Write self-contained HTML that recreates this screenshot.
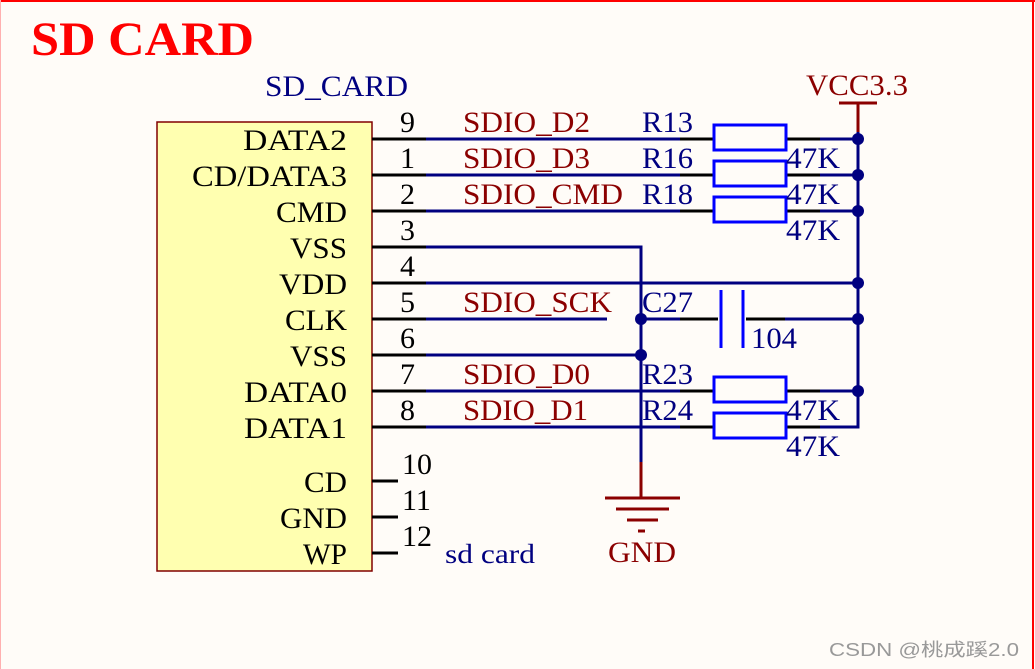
<!DOCTYPE html>
<html><head><meta charset="utf-8"><style>
html,body{margin:0;padding:0;background:#fffcf8;}
svg{display:block;}
text{font-family:"Liberation Serif",serif;font-size:30px;}
</style></head><body>
<svg width="1035" height="669" viewBox="0 0 1035 669" xmlns="http://www.w3.org/2000/svg">
<rect x="0" y="0" width="1035" height="669" fill="#fffcf8"/>
<line x1="0" y1="1" x2="1035" y2="1" stroke="#ff0000" stroke-width="2"/>
<line x1="0.5" y1="0" x2="0.5" y2="669" stroke="#ffb0b0" stroke-width="1"/>
<line x1="1033" y1="0" x2="1033" y2="669" stroke="#ff0000" stroke-width="2"/>
<text x="31" y="55" fill="#ff0000" font-weight="bold" style="font-size:48px" textLength="223" lengthAdjust="spacingAndGlyphs">SD CARD</text>
<text x="265" y="96" fill="#000080" textLength="143" lengthAdjust="spacingAndGlyphs">SD_CARD</text>
<rect x="157" y="122" width="215" height="449" fill="#ffffb0" stroke="#800000" stroke-width="1.5"/>
<g fill="#000" lengthAdjust="spacingAndGlyphs">
<text x="243" y="150" textLength="104" lengthAdjust="spacingAndGlyphs">DATA2</text>
<text x="192" y="186" textLength="155" lengthAdjust="spacingAndGlyphs">CD/DATA3</text>
<text x="276" y="222" textLength="71" lengthAdjust="spacingAndGlyphs">CMD</text>
<text x="290" y="258" textLength="57" lengthAdjust="spacingAndGlyphs">VSS</text>
<text x="279" y="294" textLength="68" lengthAdjust="spacingAndGlyphs">VDD</text>
<text x="285" y="330" textLength="62" lengthAdjust="spacingAndGlyphs">CLK</text>
<text x="290" y="366" textLength="57" lengthAdjust="spacingAndGlyphs">VSS</text>
<text x="244" y="402" textLength="103" lengthAdjust="spacingAndGlyphs">DATA0</text>
<text x="244" y="438" textLength="103" lengthAdjust="spacingAndGlyphs">DATA1</text>
<text x="304" y="492" textLength="43" lengthAdjust="spacingAndGlyphs">CD</text>
<text x="280" y="528" textLength="67" lengthAdjust="spacingAndGlyphs">GND</text>
<text x="303" y="564" textLength="44" lengthAdjust="spacingAndGlyphs">WP</text>
</g>
<g fill="#000">
<text x="400" y="132">9</text><text x="400" y="168">1</text><text x="400" y="204">2</text>
<text x="400" y="240">3</text><text x="400" y="276">4</text><text x="400" y="312">5</text>
<text x="400" y="348">6</text><text x="400" y="384">7</text><text x="400" y="420">8</text>
<text x="402" y="474">10</text><text x="402" y="510">11</text><text x="402" y="546">12</text>
</g>
<g stroke="#000" stroke-width="3">
<path d="M372 139H426M372 175H426M372 211H426M372 247H426M372 283H426M372 319H426M372 355H426M372 391H426M372 427H426"/>
<path d="M372 481H398M372 517H398M372 553H398"/>
<path d="M680 139H713M680 175H713M680 211H713M680 391H713M680 427H713"/>
<path d="M786 139H820M786 175H820M786 211H820M786 391H820M786 427H820"/>
<path d="M680 319H718M746 319H785"/>
</g>
<g stroke="#000080" stroke-width="3" fill="none">
<path d="M426 139H680M426 175H680M426 211H680M426 391H680M426 427H680"/>
<path d="M820 139H858M820 175H858M820 211H858M820 391H858M820 427H858V132"/>
<path d="M426 247H641V462"/>
<path d="M426 283H858"/>
<path d="M426 319H607"/>
<path d="M641 319H680M785 319H858"/>
<path d="M426 355H641"/>
</g>
<g stroke="#0000ff" stroke-width="3" fill="none">
<rect x="714" y="125" width="72" height="25"/>
<rect x="714" y="161" width="72" height="25"/>
<rect x="714" y="197" width="72" height="25"/>
<rect x="714" y="377" width="72" height="25"/>
<rect x="714" y="413" width="72" height="25"/>
<path d="M721 290V348M743 290V348"/>
</g>
<g fill="#000080">
<circle cx="858" cy="139" r="6"/><circle cx="858" cy="175" r="6"/><circle cx="858" cy="211" r="6"/>
<circle cx="858" cy="283" r="6"/><circle cx="858" cy="319" r="6"/><circle cx="858" cy="391" r="6"/>
<circle cx="641" cy="319" r="6"/><circle cx="641" cy="355" r="6"/>
</g>
<g stroke="#8b0000" stroke-width="3">
<path d="M839 103H877M858 103V132"/>
<path d="M641 462V498M605 498H680M616 509H669M627 520H658M638 531H645"/>
</g>
<text x="806" y="95" fill="#8b0000" textLength="102" lengthAdjust="spacingAndGlyphs">VCC3.3</text>
<text x="608" y="562" fill="#8b0000" textLength="68" lengthAdjust="spacingAndGlyphs">GND</text>
<g fill="#8b0000">
<text x="463" y="132" textLength="127" lengthAdjust="spacingAndGlyphs">SDIO_D2</text>
<text x="463" y="168" textLength="127" lengthAdjust="spacingAndGlyphs">SDIO_D3</text>
<text x="463" y="204" textLength="160" lengthAdjust="spacingAndGlyphs">SDIO_CMD</text>
<text x="463" y="312" textLength="149" lengthAdjust="spacingAndGlyphs">SDIO_SCK</text>
<text x="463" y="384" textLength="127" lengthAdjust="spacingAndGlyphs">SDIO_D0</text>
<text x="463" y="420" textLength="125" lengthAdjust="spacingAndGlyphs">SDIO_D1</text>
</g>
<g fill="#000080">
<text x="642" y="132" textLength="51" lengthAdjust="spacingAndGlyphs">R13</text>
<text x="642" y="168" textLength="51" lengthAdjust="spacingAndGlyphs">R16</text>
<text x="642" y="204" textLength="51" lengthAdjust="spacingAndGlyphs">R18</text>
<text x="642" y="312" textLength="51" lengthAdjust="spacingAndGlyphs">C27</text>
<text x="642" y="384" textLength="51" lengthAdjust="spacingAndGlyphs">R23</text>
<text x="642" y="420" textLength="51" lengthAdjust="spacingAndGlyphs">R24</text>
<text x="786" y="168" textLength="54" lengthAdjust="spacingAndGlyphs">47K</text>
<text x="786" y="204" textLength="54" lengthAdjust="spacingAndGlyphs">47K</text>
<text x="786" y="240" textLength="54" lengthAdjust="spacingAndGlyphs">47K</text>
<text x="751" y="348" textLength="46" lengthAdjust="spacingAndGlyphs">104</text>
<text x="786" y="420" textLength="54" lengthAdjust="spacingAndGlyphs">47K</text>
<text x="786" y="456" textLength="54" lengthAdjust="spacingAndGlyphs">47K</text>
<text x="445" y="563" style="font-size:27px" textLength="90" lengthAdjust="spacingAndGlyphs">sd card</text>
</g>
<text x="829" y="656" fill="#999" style="font-family:'Liberation Sans','Noto Sans CJK SC',sans-serif;font-size:18px" textLength="190" lengthAdjust="spacingAndGlyphs">CSDN @桃成蹊2.0</text>
</svg>
</body></html>
